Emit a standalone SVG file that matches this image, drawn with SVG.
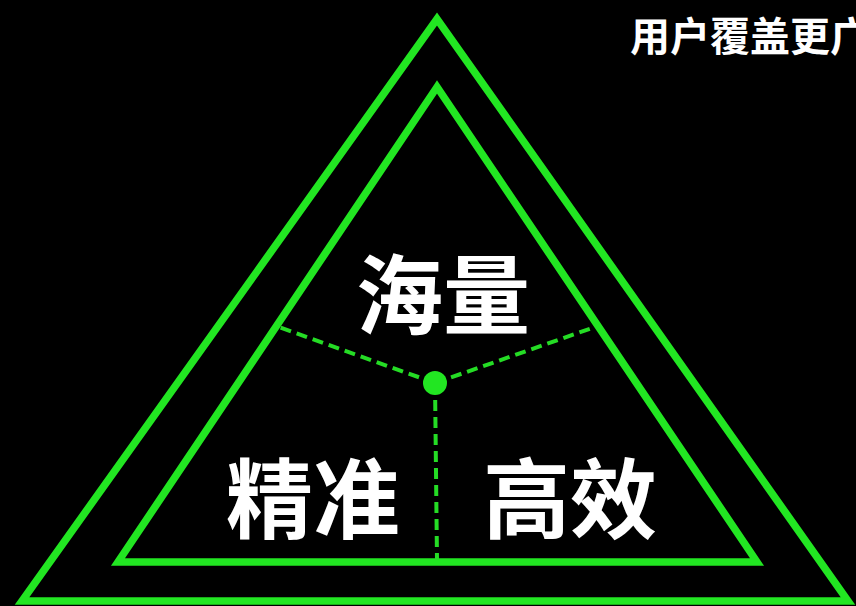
<svg xmlns="http://www.w3.org/2000/svg" width="856" height="606" viewBox="0 0 856 606">
<style>
.tri{fill:none;stroke:#22e622;stroke-width:7.5;stroke-linejoin:miter}
.dash{fill:none;stroke:#25dc25;stroke-width:4;stroke-dasharray:11 6}
.big{font-family:"Noto Sans CJK SC","Noto Sans CJK JP",sans-serif;font-weight:bold;font-size:87px;fill:#fff;text-anchor:middle}
.top{font-family:"Noto Sans CJK SC","Noto Sans CJK JP",sans-serif;font-weight:bold;font-size:40px;fill:#fff}
</style>
<rect width="856" height="606" fill="#000"/>
<g id="outer"><polygon class="tri" points="437,19 22,601 848,601"/></g>
<g id="inner"><polygon class="tri" points="437,87 118,562 757,562"/></g>
<g id="connectors">
<line class="dash" x1="435" y1="383" x2="279" y2="327"/>
<line class="dash" x1="435" y1="383" x2="595" y2="327"/>
<line class="dash" x1="435" y1="383" x2="437" y2="560"/>
</g>
<g id="center"><circle cx="435" cy="383" r="12" fill="#22e622"/></g>
<g id="haliang"><text class="big" x="443" y="328">海量</text></g>
<g id="jingzhun"><text class="big" x="313" y="532">精准</text></g>
<g id="gaoxiao"><text class="big" x="570" y="532">高效</text></g>
<g id="title"><text class="top" x="630" y="51">用户覆盖更广</text></g>
</svg>
